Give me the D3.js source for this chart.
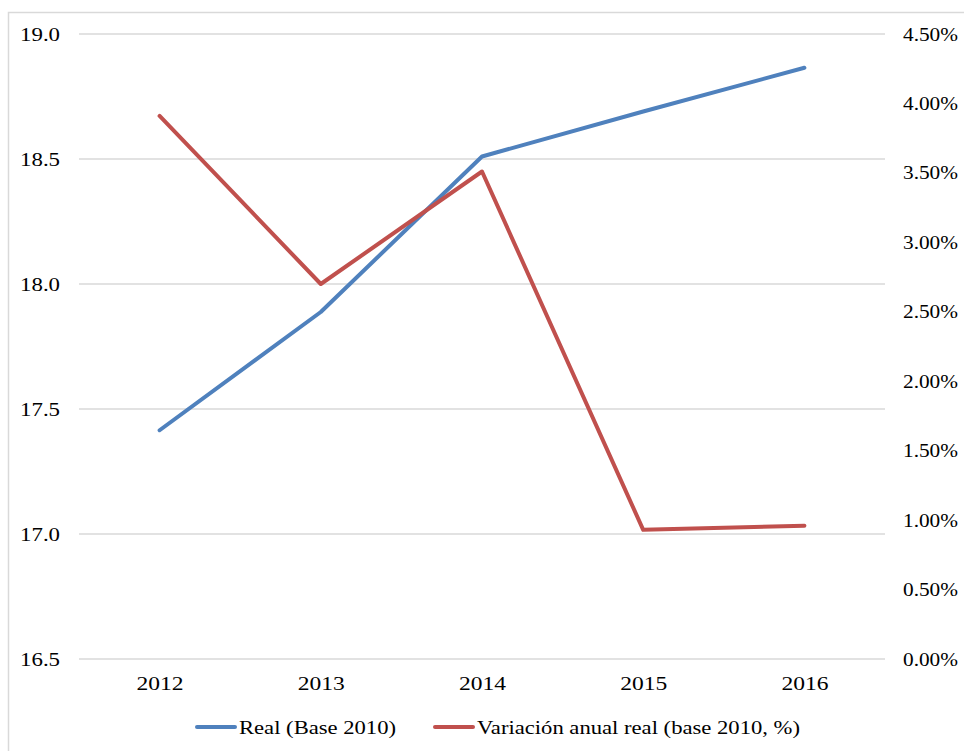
<!DOCTYPE html>
<html>
<head>
<meta charset="utf-8">
<script src="https://cdn.jsdelivr.net/npm/d3@7"></script>
<style>
  body { margin: 0; background: #fff; }
  svg { display: block; }
  svg text { font-family: "Liberation Serif", Tinos, "Times New Roman", Times, "DejaVu Serif", serif !important; }
</style>
</head>
<body>
<div id="chart"></div>
<script>
// chart data
const years = ["2012", "2013", "2014", "2015", "2016"];
const realValues = [17.415, 17.888, 18.51, 18.69, 18.865];
const variationValues = [3.91, 2.70, 3.51, 0.93, 0.96]; // percent
const leftTicks = [16.5, 17.0, 17.5, 18.0, 18.5, 19.0];
const rightTicks = [0, 0.5, 1, 1.5, 2, 2.5, 3, 3.5, 4, 4.5];
const seriesNames = ["Real (Base 2010)", "Variación anual real (base 2010, %)"];
const colors = ["#4f81bd", "#c0504d"];

const width = 964, height = 751;
const margin = { top: 34, right: 79, bottom: 92, left: 79 };
const fontSize = 19;

const svg = d3.select("#chart").append("svg")
    .attr("width", width)
    .attr("height", height);

// outer frame
svg.append("rect")
    .attr("x", 8.5).attr("y", 12.5)
    .attr("width", width + 20).attr("height", height + 20)
    .attr("fill", "none")
    .attr("stroke", "#d9d9d9")
    .attr("stroke-width", 1.5);

const x = d3.scalePoint()
    .domain(years)
    .range([margin.left, width - margin.right])
    .padding(0.5);

const yL = d3.scaleLinear()
    .domain([16.5, 19.0])
    .range([height - margin.bottom, margin.top]);

const yR = d3.scaleLinear()
    .domain([0, 4.5])
    .range([height - margin.bottom, margin.top]);

// fit text to the widths seen in the original
const styleText = (sel, len) => sel
    .attr("font-size", fontSize)
    .attr("fill", "#000")
    .attr("textLength", len)
    .attr("lengthAdjust", "spacingAndGlyphs");

// gridlines
svg.append("g")
    .selectAll("line")
    .data(leftTicks)
    .join("line")
    .attr("x1", margin.left)
    .attr("x2", width - margin.right)
    .attr("y1", d => yL(d))
    .attr("y2", d => yL(d))
    .attr("stroke", "#d9d9d9")
    .attr("stroke-width", 1.5);

// left axis
svg.append("g")
    .attr("transform", `translate(${margin.left},0)`)
    .call(d3.axisLeft(yL).tickValues(leftTicks).tickFormat(d3.format(".1f")).tickSize(0).tickPadding(19))
    .call(g => g.select(".domain").remove())
    .call(g => styleText(g.selectAll("text"), 40));

// right axis
svg.append("g")
    .attr("transform", `translate(${width - margin.right},0)`)
    .call(d3.axisRight(yR).tickValues(rightTicks).tickFormat(d => d.toFixed(2) + "%").tickSize(0).tickPadding(18))
    .call(g => g.select(".domain").remove())
    .call(g => styleText(g.selectAll("text"), 55));

// bottom axis
svg.append("g")
    .attr("transform", `translate(0,${height - margin.bottom})`)
    .call(d3.axisBottom(x).tickSize(0).tickPadding(18))
    .call(g => g.select(".domain").remove())
    .call(g => styleText(g.selectAll("text"), 47));

// lines
const lineL = d3.line().x((d, i) => x(years[i])).y(d => yL(d));
const lineR = d3.line().x((d, i) => x(years[i])).y(d => yR(d));

svg.append("path")
    .datum(realValues)
    .attr("d", lineL)
    .attr("fill", "none")
    .attr("stroke", colors[0])
    .attr("stroke-width", 4)
    .attr("stroke-linecap", "round")
    .attr("stroke-linejoin", "round");

svg.append("path")
    .datum(variationValues)
    .attr("d", lineR)
    .attr("fill", "none")
    .attr("stroke", colors[1])
    .attr("stroke-width", 4)
    .attr("stroke-linecap", "round")
    .attr("stroke-linejoin", "round");

// legend
const legendX = [197, 435];
const legendLen = [157, 323];
const legend = svg.append("g")
    .selectAll("g")
    .data(seriesNames)
    .join("g")
    .attr("transform", (d, i) => `translate(${legendX[i]},727)`);

legend.append("line")
    .attr("x1", 0).attr("x2", 38)
    .attr("stroke", (d, i) => colors[i])
    .attr("stroke-width", 4)
    .attr("stroke-linecap", "round");

legend.append("text")
    .attr("x", 42)
    .attr("dy", "0.35em")
    .call(sel => styleText(sel, (d, i) => legendLen[i]))
    .text(d => d);
</script>
</body>
</html>
